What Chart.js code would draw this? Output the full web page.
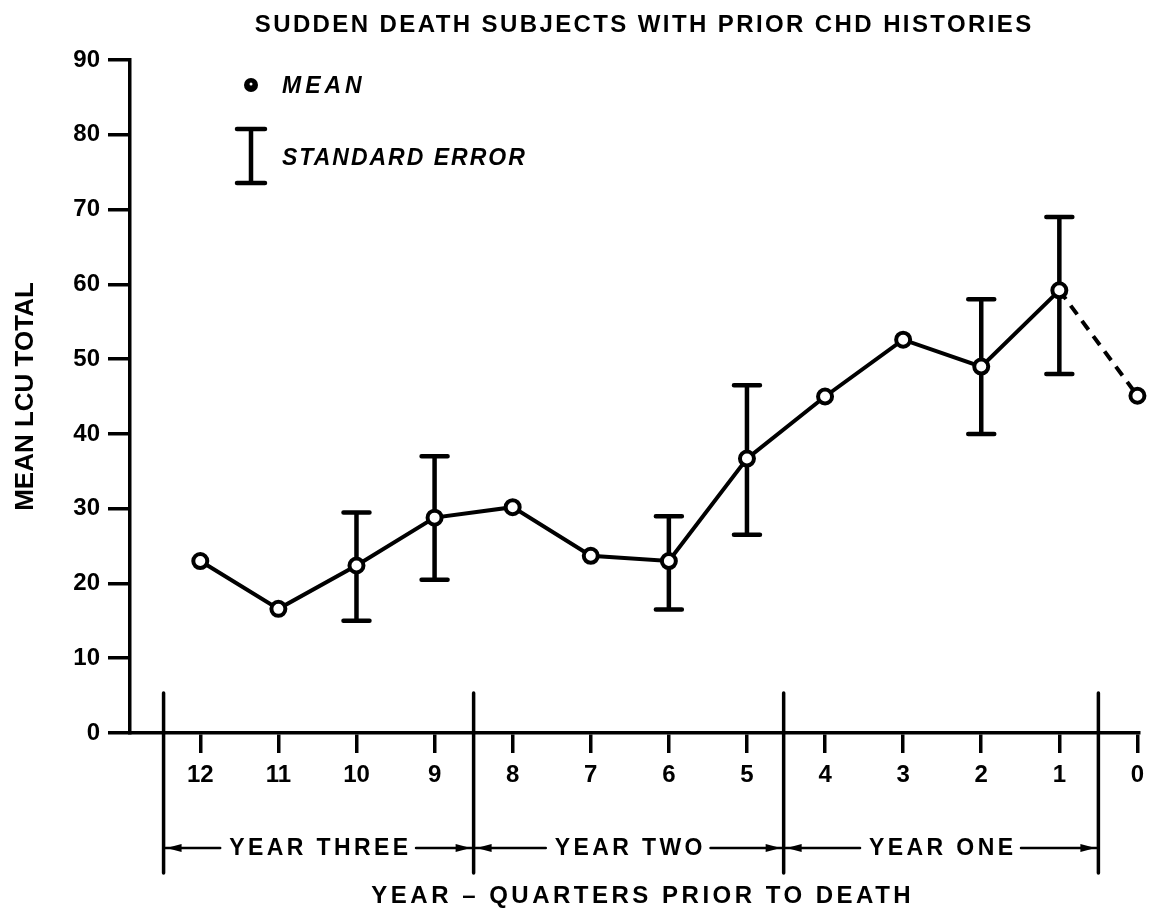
<!DOCTYPE html>
<html><head><meta charset="utf-8">
<script src="https://cdn.jsdelivr.net/npm/chart.js@4/dist/chart.umd.min.js"></script>
<style>html,body{margin:0;padding:0;background:#fff}canvas{display:block}</style>
</head><body>
<canvas id="c" width="1153" height="911"></canvas>
<script>
// ---- data ----
const quarters = [12, 11, 10, 9, 8, 7, 6, 5, 4, 3, 2, 1, 0];
const meanLCU  = [23, 16.6, 22.4, 28.8, 30.2, 23.7, 23, 36.7, 45, 52.6, 49, 59.2, 45.1];
const seLow    = [null, null, 15, 20.5, null, null, 16.5, 26.5, null, null, 40, 48, null];
const seHigh   = [null, null, 29.5, 37, null, null, 29, 46.5, null, null, 58, 69, null];
const yTicks   = [0, 10, 20, 30, 40, 50, 60, 70, 80, 90];
const yearLabels = ['YEAR THREE', 'YEAR TWO', 'YEAR ONE'];
const titleText = 'SUDDEN DEATH SUBJECTS WITH PRIOR CHD HISTORIES';
const yTitle = 'MEAN LCU TOTAL';
const xTitle = 'YEAR \u2013 QUARTERS PRIOR TO DEATH';
const legendMean = 'MEAN';
const legendSE = 'STANDARD ERROR';

const FAM = '"Liberation Sans", Arial, Helvetica, sans-serif';

function spacedText(ctx, text, x, y, spacing, align) {
  ctx.letterSpacing = spacing + 'px';
  const w = ctx.measureText(text).width - spacing;
  let sx = x;
  if (align === 'center') sx = x - w / 2;
  else if (align === 'right') sx = x - w;
  ctx.textAlign = 'left';
  ctx.fillText(text, sx, y);
  ctx.letterSpacing = '0px';
  return w;
}

const errorBars = {
  id: 'errorBars',
  beforeDatasetsDraw(chart) {
    const { ctx, scales: { x, y } } = chart;
    ctx.save();
    ctx.strokeStyle = '#000';
    ctx.lineWidth = 4.5;
    ctx.lineCap = 'round';
    quarters.forEach((q, i) => {
      if (seLow[i] == null) return;
      const px = x.getPixelForValue(q);
      const yl = y.getPixelForValue(seLow[i]);
      const yh = y.getPixelForValue(seHigh[i]);
      ctx.beginPath();
      ctx.moveTo(px, yl); ctx.lineTo(px, yh);
      ctx.moveTo(px - 13, yl); ctx.lineTo(px + 13, yl);
      ctx.moveTo(px - 13, yh); ctx.lineTo(px + 13, yh);
      ctx.stroke();
    });
    ctx.restore();
  }
};

const decorations = {
  id: 'decorations',
  afterDraw(chart, args, opts) {
    const { ctx, scales: { x, y } } = chart;
    ctx.save();
    ctx.fillStyle = '#000';
    ctx.strokeStyle = '#000';
    ctx.textBaseline = 'middle';

    // main title
    ctx.font = 'bold 24px ' + FAM;
    spacedText(ctx, titleText, 643, 25, 2.4, 'center');

    // legend
    const lx = x.left + 121;
    ctx.beginPath(); ctx.arc(lx, 85, 7, 0, Math.PI * 2); ctx.fill();
    ctx.fillStyle = '#fff';
    ctx.beginPath(); ctx.arc(lx, 84, 1.5, 0, Math.PI * 2); ctx.fill();
    ctx.fillStyle = '#000';
    ctx.font = 'italic bold 23px ' + FAM;
    spacedText(ctx, legendMean, lx + 31, 87, 4, 'left');
    ctx.lineWidth = 4.5; ctx.lineCap = 'round';
    ctx.beginPath();
    ctx.moveTo(lx, 129); ctx.lineTo(lx, 183);
    ctx.moveTo(lx - 14, 129); ctx.lineTo(lx + 14, 129);
    ctx.moveTo(lx - 14, 183); ctx.lineTo(lx + 14, 183);
    ctx.stroke();
    spacedText(ctx, legendSE, lx + 31, 159, 2, 'left');

    // year separators
    const b = opts.bounds.map(v => x.getPixelForValue(v));
    ctx.lineWidth = 3.5; ctx.lineCap = 'round';
    b.forEach(px => {
      ctx.beginPath(); ctx.moveTo(px, opts.sepTop); ctx.lineTo(px, opts.sepBottom); ctx.stroke();
    });

    // year labels with arrows
    const ay = 848;
    ctx.font = 'bold 23px ' + FAM;
    yearLabels.forEach((lab, i) => {
      const l = b[i], r = b[i + 1];
      const c = (l + r) / 2;
      ctx.letterSpacing = '3.4px';
      const w = ctx.measureText(lab).width - 3.4;
      ctx.letterSpacing = '0px';
      spacedText(ctx, lab, c, ay + 1, 3.4, 'center');
      ctx.lineWidth = 2.5;
      ctx.beginPath();
      ctx.moveTo(l + 2, ay); ctx.lineTo(c - w / 2 - 9, ay);
      ctx.moveTo(c + w / 2 + 8, ay); ctx.lineTo(r - 2, ay);
      ctx.stroke();
      ctx.beginPath();
      ctx.moveTo(l + 3, ay); ctx.lineTo(l + 18, ay - 4); ctx.lineTo(l + 18, ay + 4); ctx.closePath();
      ctx.moveTo(r - 3, ay); ctx.lineTo(r - 18, ay - 4); ctx.lineTo(r - 18, ay + 4); ctx.closePath();
      ctx.fill();
    });

    // x-axis title
    ctx.font = 'bold 24px ' + FAM;
    spacedText(ctx, xTitle, 641, 896, 3.5, 'center');

    ctx.restore();
  }
};

new Chart(document.getElementById('c'), {
  type: 'line',
  data: {
    datasets: [{
      data: quarters.map((q, i) => ({ x: q, y: meanLCU[i] })),
      borderColor: '#000',
      borderWidth: 4,
      pointRadius: 7,
      pointBorderWidth: 4,
      pointBackgroundColor: '#fff',
      pointBorderColor: '#000',
      tension: 0,
      clip: false,
      segment: {
        borderDash: c => (c.p1DataIndex === quarters.length - 1 ? [11, 8] : undefined)
      }
    }]
  },
  options: {
    responsive: false,
    animation: false,
    events: [],
    layout: { padding: { top: 60, left: 0, right: 14, bottom: 0 } },
    plugins: {
      legend: { display: false },
      tooltip: { enabled: false },
      title: { display: false },
      decorations: { bounds: [12.47, 8.5, 4.53, 0.5], sepTop: 693, sepBottom: 873 }
    },
    scales: {
      x: {
        type: 'linear',
        reverse: true,
        min: -0.02,
        max: 12.9,
        afterBuildTicks: s => { s.ticks = quarters.map(v => ({ value: v })); },
        afterFit: s => { s.height = 178; },
        ticks: {
          autoSkip: false, maxRotation: 0, minRotation: 0,
          color: '#000', padding: 8,
          font: { family: FAM, weight: 'bold', size: 24 },
          callback: v => String(v)
        },
        grid: { drawOnChartArea: false, drawTicks: true, tickLength: 20, lineWidth: 3.5, color: '#000' },
        border: { display: true, color: '#000', width: 3.5 }
      },
      y: {
        min: 0,
        max: 90,
        afterBuildTicks: s => { s.ticks = yTicks.map(v => ({ value: v })); },
        afterFit: s => { s.width = 130; },
        ticks: {
          color: '#000', padding: 8,
          font: { family: FAM, weight: 'bold', size: 24 }
        },
        grid: { drawOnChartArea: false, drawTicks: true, tickLength: 22, lineWidth: 3.5, color: '#000' },
        border: { display: true, color: '#000', width: 3.5 },
        title: {
          display: true, text: yTitle, color: '#000',
          font: { family: FAM, weight: 'bold', size: 26 },
          padding: { top: 10, bottom: 0 }
        }
      }
    }
  },
  plugins: [errorBars, decorations]
});
</script>
</body></html>
